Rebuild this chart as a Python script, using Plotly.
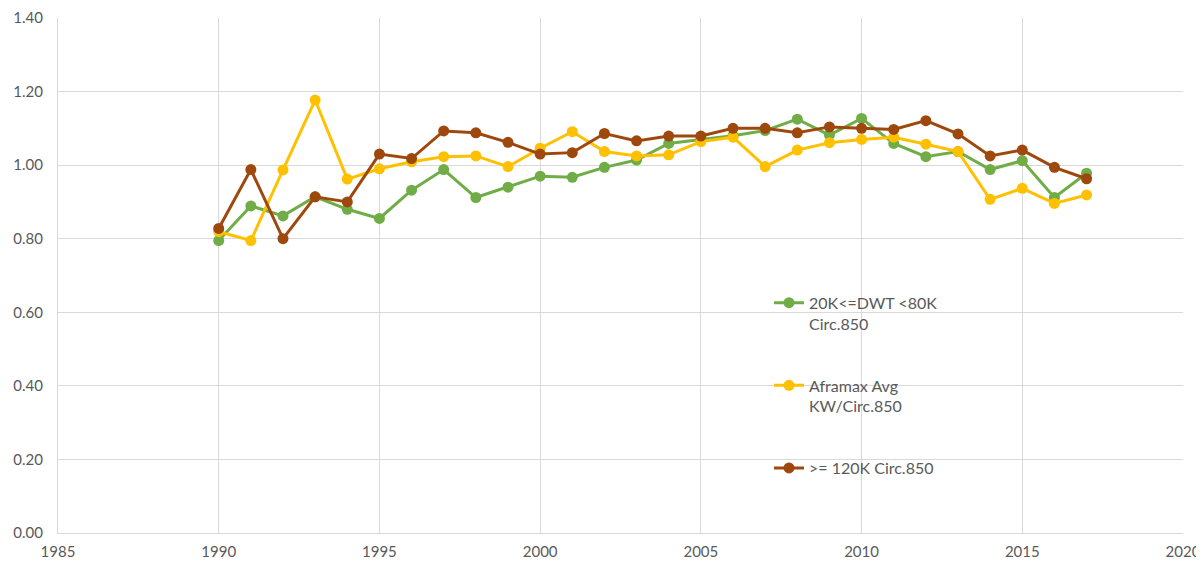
import plotly.graph_objects as go

years = list(range(1990, 2018))

green_vals = [0.795, 0.889, 0.862, 0.914, 0.880, 0.855, 0.932, 0.988, 0.912, 0.940,
              0.970, 0.967, 0.994, 1.014, 1.059, 1.070, 1.080, 1.094, 1.125, 1.082,
              1.127, 1.059, 1.023, 1.037, 0.988, 1.012, 0.912, 0.978]

yellow_vals = [0.819, 0.795, 0.987, 1.177, 0.962, 0.990, 1.009, 1.023, 1.025, 0.996,
               1.046, 1.091, 1.037, 1.025, 1.028, 1.064, 1.076, 0.996, 1.041, 1.061,
               1.070, 1.076, 1.057, 1.037, 0.907, 0.937, 0.896, 0.919]

brown_vals = [0.828, 0.988, 0.800, 0.914, 0.900, 1.030, 1.018, 1.093, 1.088, 1.062,
              1.030, 1.034, 1.086, 1.066, 1.079, 1.079, 1.100, 1.100, 1.088, 1.104,
              1.100, 1.097, 1.121, 1.085, 1.025, 1.041, 0.994, 0.963]

names = ["20K<=DWT <80K<br>Circ.850", "Aframax Avg<br>KW/Circ.850", ">= 120K Circ.850"]
colors = ["#70AD47", "#FFC000", "#9E480E"]
series = [green_vals, yellow_vals, brown_vals]

x_ticks = [1985, 1990, 1995, 2000, 2005, 2010, 2015, 2020]
y_ticks = [0.0, 0.2, 0.4, 0.6, 0.8, 1.0, 1.2, 1.4]

fig = go.Figure()
for i, (nm, col, vals) in enumerate(zip(names, colors, series)):
    fig.add_trace(go.Scatter(
        x=years, y=vals, name=nm, mode="lines+markers",
        line=dict(color=col, width=3),
        marker=dict(color=col, size=11),
        legendgroup=str(i),
    ))

font_family = "Lato"
fig.update_layout(
    width=1204, height=563,
    margin=dict(l=50, r=29, t=10, b=38, autoexpand=False),
    paper_bgcolor="white", plot_bgcolor="white",
    font=dict(family=font_family, size=15, color="#595959"),
    showlegend=True,
    legend=dict(
        x=0.632, y=0.48, xanchor="left", yanchor="top",
        bgcolor="rgba(0,0,0,0)", valign="top",
        traceorder="grouped", tracegroupgap=38,
        font=dict(family=font_family, size=16, color="#595959"),
    ),
    xaxis=dict(
        range=[1985, 2020], tickvals=x_ticks, ticktext=[str(v) for v in x_ticks],
        showgrid=True, gridcolor="#D9D9D9", gridwidth=1, automargin=False,
        zeroline=False, showline=True, linecolor="#D9D9D9", linewidth=1,
        ticks="", ticklabelstandoff=5, tickfont=dict(size=15, color="#595959"),
    ),
    yaxis=dict(
        range=[0, 1.4], tickvals=y_ticks, ticktext=[f"{v:.2f}" for v in y_ticks],
        showgrid=True, gridcolor="#D9D9D9", gridwidth=1, automargin=False,
        zeroline=False, showline=True, linecolor="#D9D9D9", linewidth=1,
        ticks="", ticklabelstandoff=11, tickfont=dict(size=15, color="#595959"),
    ),
)

fig.write_html("out.html")
